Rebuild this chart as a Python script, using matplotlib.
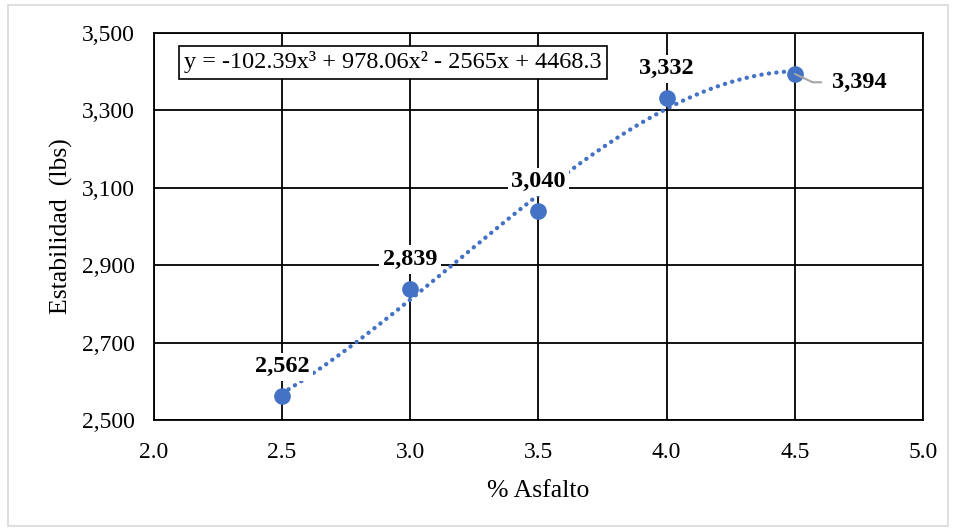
import numpy as np
import matplotlib.pyplot as plt
from matplotlib.patches import Rectangle

# datos
asfalto = [2.5, 3.0, 3.5, 4.0, 4.5]
estabilidad = [2562, 2839, 3040, 3332, 3394]
etiquetas = ["2,562", "2,839", "3,040", "3,332", "3,394"]
ecuacion = "y = -102.39x³ + 978.06x² - 2565x + 4468.3"

xticks = [2.0, 2.5, 3.0, 3.5, 4.0, 4.5, 5.0]
yticks = [2500, 2700, 2900, 3100, 3300, 3500]

azul = "#4472C4"

plt.rcParams['font.family'] = ['Liberation Serif', 'DejaVu Serif']

fig = plt.figure(figsize=(9.56, 5.31), dpi=100)
ax = fig.add_axes([0.161, 0.209, 0.8045, 0.729])

# borde del area del grafico
fig.patches.append(Rectangle((0.008, 0.01), 0.984, 0.98, transform=fig.transFigure,
                             fill=False, edgecolor="#d9d9d9", linewidth=1.2))

# linea de tendencia polinomica de grado 3
coef = np.polyfit(asfalto, estabilidad, 3)
xs = np.linspace(asfalto[0], asfalto[-1], 300)
ax.plot(xs, np.polyval(coef, xs), linestyle=(0, (0.05, 1.7)), color=azul,
        linewidth=3.1, dash_capstyle='round', zorder=3)

ax.plot(asfalto, estabilidad, 'o', color=azul, markersize=11, zorder=4)

# etiquetas de datos
for x, y, t in zip(asfalto[:-1], estabilidad[:-1], etiquetas[:-1]):
    ax.annotate(t, (x, y), xytext=(0, 21), textcoords='offset points',
                ha='center', va='center', fontsize=17.5, fontweight='bold',
                bbox=dict(boxstyle='square,pad=0.15', fc='white', ec='none'), zorder=5)

ax.annotate(etiquetas[-1], (asfalto[-1], estabilidad[-1]), xytext=(27, -6),
            textcoords='offset points', ha='left', va='center', fontsize=17.5,
            fontweight='bold', zorder=5,
            arrowprops=dict(arrowstyle='-', color='#a6a6a6', lw=1.5,
                            connectionstyle='angle,angleA=0,angleB=-25,rad=0',
                            shrinkA=6, shrinkB=0))

ax.text(0.039, 0.924, ecuacion, transform=ax.transAxes, fontsize=17.5,
        ha='left', va='center',
        bbox=dict(boxstyle='square,pad=0.22', fc='white', ec='black', lw=1.2), zorder=6)

ax.set_xlim(2.0, 5.0)
ax.set_ylim(2500, 3500)
ax.set_xticks(xticks)
ax.set_xticklabels([f"{v:.1f}" for v in xticks])
ax.set_yticks(yticks)
ax.set_yticklabels([f"{v:,}" for v in yticks])
ax.tick_params(length=0, labelsize=17)
ax.tick_params(axis='x', pad=16)
ax.tick_params(axis='y', pad=14)
ax.grid(True, color='black', linewidth=1.3)
ax.set_axisbelow(True)
for s in ax.spines.values():
    s.set_linewidth(1.3)

ax.set_xlabel("% Asfalto", fontsize=18.5)
ax.set_ylabel("Estabilidad  (lbs)", fontsize=18.5)
ax.xaxis.set_label_coords(0.5, -0.155)
ax.yaxis.set_label_coords(-0.105, 0.5)

fig.savefig("out.png", dpi=100)
